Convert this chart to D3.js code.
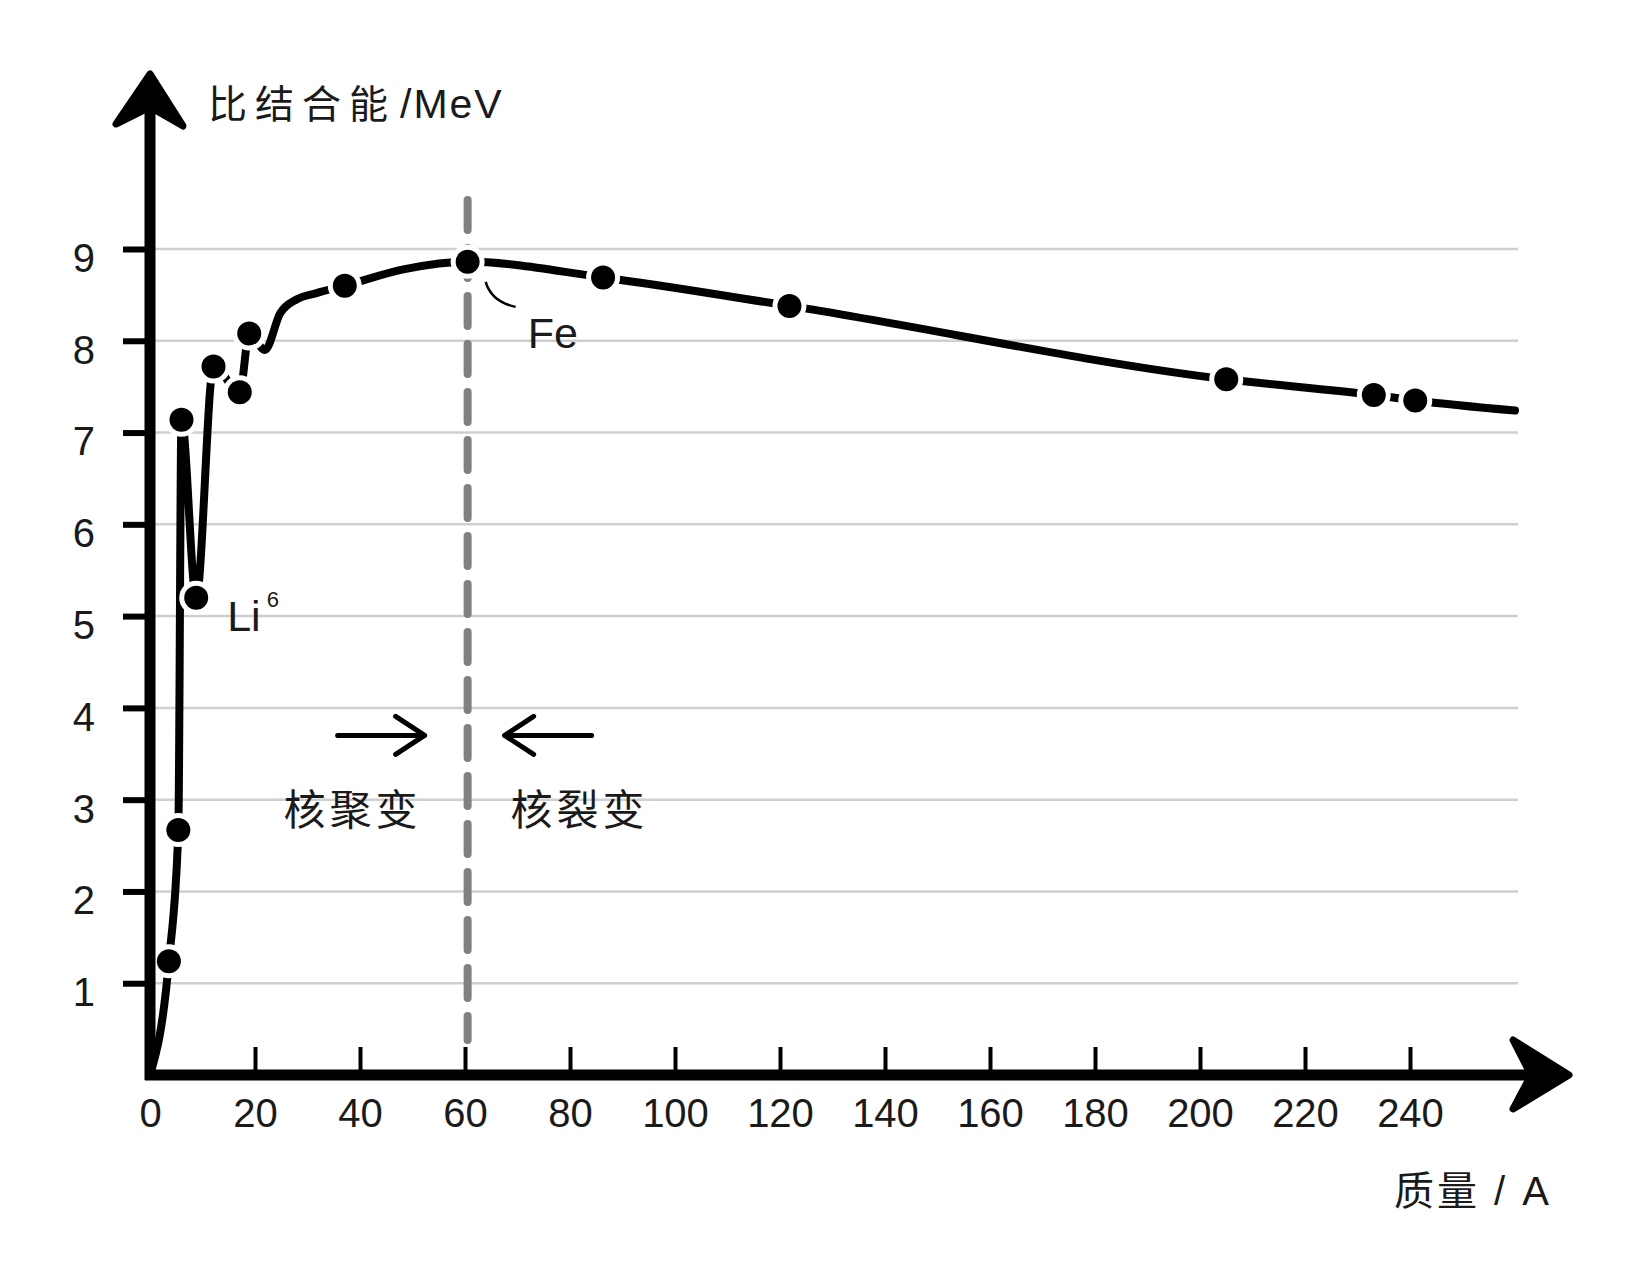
<!DOCTYPE html>
<html>
<head>
<meta charset="utf-8">
<script src="https://cdnjs.cloudflare.com/ajax/libs/d3/7.8.5/d3.min.js"></script>
<style>
body { margin: 0; background: #fff; }
svg text { font-family: "Liberation Sans", Arial, "Noto Sans CJK SC", sans-serif; fill: #1a1a1a; }
</style>
</head>
<body>
<script>
//Width and height
var w = 1643;
var h = 1280;

//Binding-energy curve (mass number A, MeV per nucleon)
var curveA = [0, 3.6, 5.4, 6.0, 8.8, 12.1, 17.1, 18.9, 21.9, 24.8, 27.9, 31.7, 37.1, 48.5, 60.5, 86.3, 121.8, 205.0, 233.1, 241.0, 260];
var curveE = [0, 1.24, 2.67, 7.14, 5.20, 7.72, 7.44, 8.08, 7.90, 8.30, 8.45, 8.52, 8.60, 8.78, 8.86, 8.69, 8.38, 7.58, 7.41, 7.35, 7.24];

//Marked nuclides (the dots)
var dotA = [3.6, 5.4, 6.0, 8.8, 12.1, 17.1, 18.9, 37.1, 60.5, 86.3, 121.8, 205.0, 233.1, 241.0];
var dotE = [1.24, 2.67, 7.14, 5.20, 7.72, 7.44, 8.08, 8.60, 8.86, 8.69, 8.38, 7.58, 7.41, 7.35];

//Tick values
var xTicks = [0, 20, 40, 60, 80, 100, 120, 140, 160, 180, 200, 220, 240];
var yTicks = [1, 2, 3, 4, 5, 6, 7, 8, 9];

//Fe peak and the Li6 dip
var feA = 60.5, feE = 8.86;
var liA = 8.8, liE = 5.20;

//Scales
var x = d3.scaleLinear().domain([0, 240]).range([150, 1410]);
var y = d3.scaleLinear().domain([0, 9]).range([1075, 249]);
var x0 = x(0), y0 = y(0);

//Create SVG element
var svg = d3.select("body")
            .append("svg")
            .attr("width", w)
            .attr("height", h);

//Gridlines
svg.append("g")
   .selectAll("line")
   .data(yTicks)
   .enter()
   .append("line")
   .attr("x1", x0)
   .attr("x2", 1518)
   .attr("y1", function(d) { return y(d); })
   .attr("y2", function(d) { return y(d); })
   .style("stroke", "#cfcfcf")
   .style("stroke-width", 2.5);

//Dashed divider at Fe
svg.append("line")
   .attr("x1", x(feA))
   .attr("x2", x(feA))
   .attr("y1", 200)
   .attr("y2", 1040)
   .style("stroke", "#808080")
   .style("stroke-width", 8)
   .style("stroke-linecap", "round")
   .style("stroke-dasharray", "30 18");

//Curve
var pts = curveA.map(function(a, i) { return [a, curveE[i]]; });
var line = d3.line()
             .x(function(d) { return x(d[0]); })
             .y(function(d) { return y(d[1]); })
             .curve(d3.curveMonotoneX);

svg.append("path")
   .attr("d", line(pts))
   .style("fill", "none")
   .style("stroke", "#000")
   .style("stroke-width", 8)
   .style("stroke-linecap", "round")
   .style("stroke-linejoin", "round");

//Dots with a white halo
var dots = dotA.map(function(a, i) { return [a, dotE[i]]; });
svg.append("g")
   .selectAll("circle")
   .data(dots)
   .enter()
   .append("circle")
   .attr("cx", function(d) { return x(d[0]); })
   .attr("cy", function(d) { return y(d[1]); })
   .attr("r", 17)
   .style("fill", "#fff");

svg.append("g")
   .selectAll("circle")
   .data(dots)
   .enter()
   .append("circle")
   .attr("cx", function(d) { return x(d[0]); })
   .attr("cy", function(d) { return y(d[1]); })
   .attr("r", 12)
   .style("fill", "#000");

//Y axis ticks and labels
var yAxis = d3.axisLeft(y).tickValues(yTicks).tickSize(27).tickPadding(28);
var gy = svg.append("g")
            .attr("transform", "translate(" + x0 + ",0)")
            .call(yAxis);
gy.select(".domain").remove();
gy.selectAll(".tick line").style("stroke", "#000").style("stroke-width", 6);
gy.selectAll(".tick text")
  .attr("dy", "0.56em")
  .style("font-size", "40px")
  .style("font-family", "Liberation Sans, Arial, sans-serif")
  .style("fill", "#1a1a1a");

//X axis ticks and labels
var xAxis = d3.axisBottom(x).tickValues(xTicks).tickSize(-28).tickPadding(24);
var gx = svg.append("g")
            .attr("transform", "translate(0," + y0 + ")")
            .call(xAxis);
gx.select(".domain").remove();
gx.selectAll(".tick line").style("stroke", "#000").style("stroke-width", 4);
gx.selectAll(".tick text")
  .style("font-size", "40px")
  .style("font-family", "Liberation Sans, Arial, sans-serif")
  .style("fill", "#1a1a1a");

//Axis lines with arrowheads
svg.append("line")
   .attr("x1", x0).attr("x2", x0)
   .attr("y1", y0 + 5).attr("y2", 105)
   .style("stroke", "#000").style("stroke-width", 11);
svg.append("line")
   .attr("x1", x0 - 5).attr("x2", 1535)
   .attr("y1", y0).attr("y2", y0)
   .style("stroke", "#000").style("stroke-width", 11);

svg.append("path")
   .attr("d", "M" + x0 + ",74 L" + (x0 - 34) + ",124 L" + x0 + ",107 L" + (x0 + 33) + ",126 Z")
   .style("fill", "#000").style("stroke", "#000")
   .style("stroke-width", 7).style("stroke-linejoin", "round");
svg.append("path")
   .attr("d", "M1569," + y0 + " L1513," + (y0 - 35) + " L1531," + y0 + " L1513," + (y0 + 34) + " Z")
   .style("fill", "#000").style("stroke", "#000")
   .style("stroke-width", 7).style("stroke-linejoin", "round");

//Axis titles
var yt = svg.append("text")
            .attr("x", 208)
            .attr("y", 118)
            .style("font-size", "39px");
yt.append("tspan").text("比结合能").style("letter-spacing", "8px");
yt.append("tspan").attr("dx", 4).text("/MeV").style("letter-spacing", "2px").style("font-size", "41px");

svg.append("text")
   .attr("x", 1552)
   .attr("y", 1205)
   .attr("text-anchor", "end")
   .style("font-size", "40px")
   .style("letter-spacing", "3px")
   .text("质量 / A");

//Fe annotation
var fx = x(feA), fy = y(feE);
svg.append("path")
   .attr("d", "M" + (fx + 18) + "," + (fy + 20) + " Q" + (fx + 24) + "," + (fy + 40) + " " + (fx + 48) + "," + (fy + 45))
   .style("fill", "none").style("stroke", "#000").style("stroke-width", 2.5);
svg.append("text")
   .attr("x", fx + 60)
   .attr("y", fy + 86)
   .style("font-size", "43px")
   .text("Fe");

//Li6 annotation
var lt = svg.append("text")
            .attr("x", x(liA) + 31)
            .attr("y", y(liE) + 33)
            .style("font-size", "43px");
lt.append("tspan").text("Li");
lt.append("tspan").attr("dx", 6).attr("dy", -24).style("font-size", "22px").text("6");

//Fusion / fission arrows
var ay = y(3.7);
svg.append("path")
   .attr("d", "M" + (fx - 130) + "," + ay + " L" + (fx - 43) + "," + ay +
              " M" + (fx - 72) + "," + (ay - 19) + " L" + (fx - 43) + "," + ay + " L" + (fx - 72) + "," + (ay + 19))
   .style("fill", "none").style("stroke", "#000").style("stroke-width", 5)
   .style("stroke-linecap", "round").style("stroke-linejoin", "round");
svg.append("path")
   .attr("d", "M" + (fx + 124) + "," + ay + " L" + (fx + 37) + "," + ay +
              " M" + (fx + 66) + "," + (ay - 19) + " L" + (fx + 37) + "," + ay + " L" + (fx + 66) + "," + (ay + 19))
   .style("fill", "none").style("stroke", "#000").style("stroke-width", 5)
   .style("stroke-linecap", "round").style("stroke-linejoin", "round");

svg.append("text")
   .attr("x", fx - 115)
   .attr("y", y(2.72))
   .attr("text-anchor", "middle")
   .style("font-size", "42px")
   .style("letter-spacing", "4px")
   .text("核聚变");
svg.append("text")
   .attr("x", fx + 112)
   .attr("y", y(2.72))
   .attr("text-anchor", "middle")
   .style("font-size", "42px")
   .style("letter-spacing", "4px")
   .text("核裂变");
</script>
</body>
</html>
